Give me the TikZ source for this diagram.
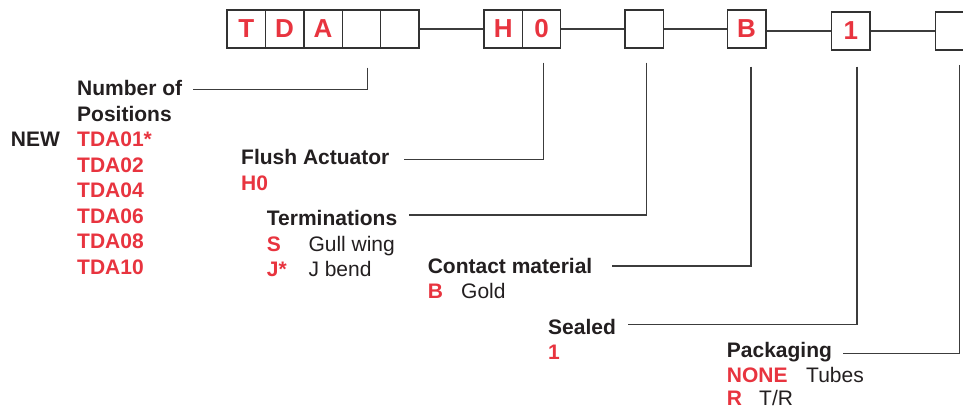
\documentclass[tikz,border=0pt]{standalone}
\usepackage{fontspec}
\setmainfont{Liberation Sans}
\definecolor{tred}{RGB}{232,52,63}
\definecolor{tblack}{RGB}{35,31,32}
\definecolor{boxc}{RGB}{50,50,50}
\definecolor{linec}{RGB}{60,60,60}
\tikzset{
  cell/.style={draw=boxc, line width=1.4pt, minimum width=38.4pt, minimum height=38pt, inner sep=0pt,
    font=\fontsize{26}{26}\selectfont\bfseries, text=tred},
  lab/.style={anchor=base west, inner sep=0pt, font=\fontsize{21}{25}\selectfont\bfseries, text=tblack},
  code/.style={lab, text=tred},
  desc/.style={anchor=base west, inner sep=0pt, font=\fontsize{21}{25}\selectfont, text=tblack},
  conn/.style={draw=linec, line width=1.2pt}
}
\begin{document}
\begin{tikzpicture}[x=1pt,y=-1pt]
\clip (0,0) rectangle (963,411);
\fill[white] (0,0) rectangle (963,411);
% boxes
\node[cell] (c1) at (246.2,29) {T};
\node[cell] (c2) at (284.6,29) {D};
\node[cell] (c3) at (323,29) {A};
\node[cell] (c4) at (361.4,29) {};
\node[cell] (c5) at (399.8,29) {};
\node[cell] (h1) at (503.2,29) {H};
\node[cell] (h2) at (541.5,29) {0};
\node[cell] (tb) at (644,29) {};
\node[cell] (bb) at (746.6,29) {B};
\node[cell] (sb) at (850.8,31) {1};
\node[cell] (pb) at (954.5,31) {};
% links between boxes
\draw[conn] (c5.east) -- (h1.west);
\draw[conn] (h2.east) -- (tb.west);
\draw[conn] (tb.east) -- (bb.west);
\draw[conn] (bb.east |- sb.west) -- (sb.west);
\draw[conn] (sb.east) -- (pb.west);
% labels
\node[lab] (nof) at (77,96) {Number of};
\node[lab] (pos) at (77,121.7) {Positions};
\node[lab] (new) at (10.7,146.7) {NEW};
\node[code] (t01) at (77,146.7) {TDA01*};
\node[code] (t02) at (77,172.2) {TDA02};
\node[code] (t04) at (77,197.7) {TDA04};
\node[code] (t06) at (77,223.2) {TDA06};
\node[code] (t08) at (77,248.7) {TDA08};
\node[code] (t10) at (77,274.2) {TDA10};
\node[lab] (fa) at (241,165) {Flush Actuator};
\node[code] (h0) at (241,190.7) {H0};
\node[lab] (te) at (266.7,226) {Terminations};
\node[code] (ts) at (266.7,251.7) {S};
\node[desc] (tsd) at (308.3,251.7) {Gull wing};
\node[code] (tj) at (266.7,276.9) {J*};
\node[desc] (tjd) at (308.3,276.9) {J bend};
\node[lab] (cm) at (427.6,273.3) {Contact material};
\node[code] (cb) at (427.6,298.5) {B};
\node[desc] (cbd) at (461,298.5) {Gold};
\node[lab] (se) at (548,334.3) {Sealed};
\node[code] (s1) at (548,359.5) {1};
\node[lab] (pk) at (726.7,357.2) {Packaging};
\node[code] (pn) at (726.7,382.6) {NONE};
\node[desc] (pnd) at (806,382.6) {Tubes};
\node[code] (pr) at (726.7,405.8) {R};
\node[desc] (prd) at (759,405.8) {T/R};
% leader lines
\coordinate (v1) at (367.7,67.7);  \coordinate (e1) at (193,89.5);
\coordinate (v2) at (543.7,62.7);  \coordinate (e2) at (404.3,159.3);
\coordinate (v3) at (646.7,62.7);  \coordinate (e3) at (409.3,215);
\coordinate (v4) at (751,66.7);    \coordinate (e4) at (611.7,266);
\coordinate (v5) at (857,66.7);    \coordinate (e5) at (628,324.3);
\coordinate (v6) at (959.3,65);    \coordinate (e6) at (842.7,353.3);
\draw[conn] (v1) |- (e1);
\draw[conn] (v2) |- (e2);
\draw[conn] (v3) |- (e3);
\draw[conn] (v4) |- (e4);
\draw[conn] (v5) |- (e5);
\draw[conn] (v6) |- (e6);
\end{tikzpicture}
\end{document}
